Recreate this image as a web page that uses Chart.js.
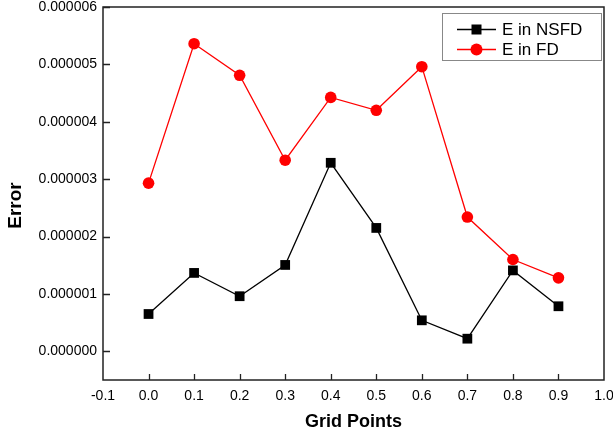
<!DOCTYPE html>
<html>
<head>
<meta charset="utf-8">
<script src="https://cdn.jsdelivr.net/npm/chart.js"></script>
<style>
html,body{margin:0;padding:0;background:#fff;}
canvas{display:block;}
</style>
</head>
<body>
<canvas id="c" width="613" height="435"></canvas>
<script>
// ---- data ----
const gridPoints = [0.0, 0.1, 0.2, 0.3, 0.4, 0.5, 0.6, 0.7, 0.8, 0.9];
const errNSFD = [0.65e-6, 1.366e-6, 0.96e-6, 1.505e-6, 3.285e-6, 2.15e-6, 0.54e-6, 0.22e-6, 1.41e-6, 0.785e-6];
const errFD   = [2.93e-6, 5.36e-6, 4.81e-6, 3.33e-6, 4.425e-6, 4.20e-6, 4.96e-6, 2.34e-6, 1.60e-6, 1.28e-6];
const seriesNames = ['E in NSFD', 'E in FD'];
const xTickLabels = [-0.1, 0.0, 0.1, 0.2, 0.3, 0.4, 0.5, 0.6, 0.7, 0.8, 0.9, 1.0];
const yTickLabels = [0, 1e-6, 2e-6, 3e-6, 4e-6, 5e-6, 6e-6];
const xRange = [-0.1, 1.0];
const yRange = [-0.5e-6, 6e-6];
const yTitle = 'Error';
const xTitle = 'Grid Points';

const FONT = "'Liberation Sans', Arial, sans-serif";
const toXY = (xs, ys) => xs.map((x, i) => ({x: x, y: ys[i]}));

const framePlugin = {
  id: 'frame',
  afterDraw(chart) {
    const ctx = chart.ctx;
    const a = chart.chartArea;
    const xs = chart.scales.x, ys = chart.scales.y;
    ctx.save();
    ctx.strokeStyle = '#222';
    ctx.lineWidth = 1.5;
    ctx.strokeRect(a.left, a.top, a.right - a.left, a.bottom - a.top);
    ctx.lineWidth = 1.3;
    ctx.beginPath();
    gridPoints.forEach(v => {
      const px = Math.round(xs.getPixelForValue(v)) + 0.5;
      ctx.moveTo(px, a.bottom);
      ctx.lineTo(px, a.bottom - 6);
    });
    yTickLabels.forEach(v => {
      const py = Math.round(ys.getPixelForValue(v)) + 0.5;
      ctx.moveTo(a.left, py);
      ctx.lineTo(a.left + 7, py);
    });
    ctx.stroke();

    // y axis title
    ctx.save();
    ctx.translate(15.5, (a.top + a.bottom) / 2 + 12);
    ctx.rotate(-Math.PI / 2);
    ctx.fillStyle = '#000';
    ctx.font = 'bold 19px ' + FONT;
    ctx.textAlign = 'center';
    ctx.textBaseline = 'middle';
    ctx.fillText(yTitle, 0, 0);
    ctx.restore();

    // legend
    const bw = 159, bh = 47;
    const bx = a.right - 3 - bw, by = a.top + 5.5;
    ctx.strokeStyle = '#888';
    ctx.lineWidth = 1;
    ctx.strokeRect(Math.round(bx) + 0.5, Math.round(by) + 0.5, bw, bh);
    chart.data.datasets.forEach((ds, i) => {
      const cy = by + 17 + i * 20;
      const lx0 = bx + 15, lx1 = bx + 54, mx = bx + 34.5;
      ctx.strokeStyle = ds.borderColor;
      ctx.lineWidth = ds.borderWidth;
      ctx.beginPath();
      ctx.moveTo(lx0, cy); ctx.lineTo(lx1, cy);
      ctx.stroke();
      ctx.fillStyle = ds.pointBackgroundColor;
      if (ds.pointStyle === 'rect') {
        ctx.fillRect(mx - 5, cy - 5, 10, 10);
      } else {
        ctx.beginPath();
        ctx.arc(mx, cy, 6, 0, Math.PI * 2);
        ctx.fill();
      }
      ctx.fillStyle = '#000';
      ctx.font = '17px ' + FONT;
      ctx.textBaseline = 'middle';
      ctx.textAlign = 'left';
      ctx.fillText(ds.label, bx + 60, cy + 1);
    });
    ctx.restore();
  }
};

new Chart(document.getElementById('c'), {
  type: 'line',
  data: {
    datasets: [
      {
        label: seriesNames[0],
        data: toXY(gridPoints, errNSFD),
        borderColor: '#000',
        backgroundColor: '#000',
        pointBackgroundColor: '#000',
        pointBorderColor: '#000',
        borderWidth: 1.3,
        pointStyle: 'rect',
        pointRadius: 6.9,
        pointBorderWidth: 0,
        tension: 0
      },
      {
        label: seriesNames[1],
        data: toXY(gridPoints, errFD),
        borderColor: '#ff0000',
        backgroundColor: '#ff0000',
        pointBackgroundColor: '#ff0000',
        pointBorderColor: '#ff0000',
        borderWidth: 1.3,
        pointStyle: 'circle',
        pointRadius: 5.8,
        pointBorderWidth: 0,
        tension: 0
      }
    ]
  },
  options: {
    responsive: false,
    animation: false,
    devicePixelRatio: 1,
    layout: {padding: {top: 7, right: 9, left: 0, bottom: 0}},
    plugins: {legend: {display: false}, tooltip: {enabled: false}},
    scales: {
      x: {
        type: 'linear',
        min: xRange[0], max: xRange[1],
        afterBuildTicks: s => { s.ticks = xTickLabels.map(v => ({value: v})); },
        afterFit: s => { s.height = 55; s.paddingLeft = 0; s.paddingRight = 0; },
        grid: {display: false, drawTicks: false},
        border: {display: false},
        ticks: {
          padding: 8,
          color: '#000',
          font: {family: FONT, size: 14},
          maxRotation: 0,
          autoSkip: false,
          callback: v => Number(v).toFixed(1)
        },
        title: {
          display: true, text: xTitle, color: '#000',
          font: {family: FONT, size: 18, weight: 'bold', lineHeight: 1.2},
          padding: {top: 0, bottom: 2}
        }
      },
      y: {
        type: 'linear',
        min: yRange[0], max: yRange[1],
        afterBuildTicks: s => { s.ticks = yTickLabels.map(v => ({value: v})); },
        afterFit: s => { s.width = 103; s.paddingTop = 0; s.paddingBottom = 0; },
        grid: {display: false, drawTicks: false},
        border: {display: false},
        ticks: {
          padding: 6,
          color: '#000',
          font: {family: FONT, size: 14},
          autoSkip: false,
          callback: v => Number(v).toFixed(6)
        },
        title: {display: false}
      }
    }
  },
  plugins: [framePlugin]
});
</script>
</body>
</html>
